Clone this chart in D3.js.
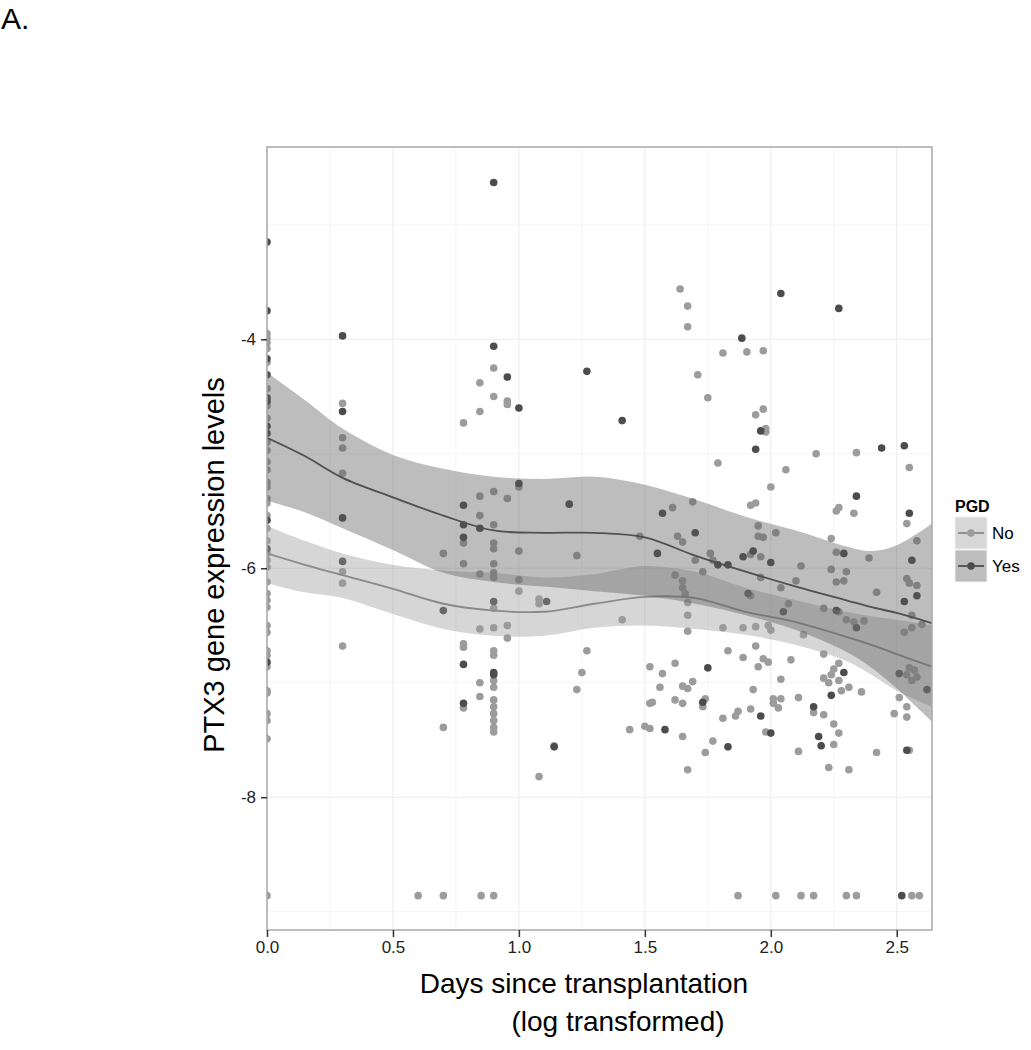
<!DOCTYPE html>
<html>
<head>
<meta charset="utf-8">
<script src="https://cdn.jsdelivr.net/npm/d3@7"></script>
<style>
  body { margin: 0; background: #fff; }
  svg { display: block; }
  text { font-family: "Liberation Sans", Arial, sans-serif; }
</style>
</head>
<body>
<svg id="chart" width="1031" height="1050"></svg>
<script>
// log10(days) columns where several samples share a day : [x, [values...]]
const noColumns = [
  [0, [-3.95,-3.99,-4.03,-4.08,-4.20,-4.43,-4.58,-4.69,-4.90,-4.97,-5.07,-5.14,-5.25,-5.29,-5.39,-5.43,-5.54,-5.65,-5.76,-5.87,-5.93,-5.99,-6.12,-6.22,-6.28,-6.34,-6.50,-6.56,-6.72,-6.76,-6.86,-7.07,-7.09,-7.27,-7.33,-7.49]],
  [0.30, [-4.56,-4.86,-4.95,-5.17,-6.03,-6.13,-6.68]],
  [0.70, [-5.87,-7.39]],
  [0.78, [-4.73,-5.78,-5.96,-6.66,-6.69,-7.22]],
  [0.845, [-4.38,-4.63,-5.37,-5.54,-6.05,-6.53,-7.00,-7.12]],
  [0.90, [-4.25,-4.50,-5.33,-5.62,-5.78,-5.83,-5.96,-6.04,-6.08,-6.35,-6.52,-6.72,-6.76,-6.98,-7.04,-7.15,-7.21,-7.27,-7.33,-7.39,-7.43]],
  [0.954, [-4.54,-4.57,-5.39,-6.50,-6.61]],
  [1.00, [-5.29,-5.85,-6.10,-6.20]],
  [1.08, [-6.27,-6.31,-7.82]],
  [1.14, [-7.55]],
  [1.23, [-5.89,-7.06]],
  [1.25, [-6.91]],
  [1.27, [-6.72]]
];
const yesColumns = [
  [0, [-3.15,-3.75,-4.17,-4.31,-4.51,-4.54,-4.76,-4.82,-5.58,-5.83,-6.82]],
  [0.30, [-3.97,-4.63,-5.56,-5.94]],
  [0.70, [-6.37]],
  [0.78, [-5.45,-5.62,-5.73,-6.84,-7.18]],
  [0.845, [-5.65]],
  [0.90, [-2.63,-4.06,-6.29,-6.91,-6.93]],
  [0.954, [-4.33]],
  [1.00, [-4.60,-5.26]],
  [1.11, [-6.29]],
  [1.14, [-7.56]]
];

// later time points [x, value]
const noScatter = [
  [1.41,-6.45],[1.48,-5.72],[1.52,-6.86],[1.52,-7.18],[1.44,-7.41],[1.50,-7.38],[1.52,-7.40],[1.53,-7.17],
  [1.56,-7.04],[1.57,-6.92],[1.61,-5.47],[1.62,-6.83],[1.62,-7.15],[1.62,-6.06],[1.63,-5.72],[1.64,-3.56],
  [1.65,-6.11],[1.65,-7.18],[1.65,-7.47],[1.65,-6.17],[1.65,-7.03],[1.65,-5.77],[1.66,-6.22],[1.67,-3.71],
  [1.67,-3.89],[1.67,-6.30],[1.67,-6.41],[1.67,-6.55],[1.67,-7.05],[1.67,-7.76],[1.69,-5.42],[1.69,-6.99],
  [1.70,-5.93],[1.71,-4.31],[1.73,-6.03],[1.74,-7.14],[1.73,-7.21],[1.74,-7.61],[1.75,-4.51],[1.76,-5.87],
  [1.77,-7.51],[1.77,-5.93],[1.79,-5.08],[1.81,-4.12],[1.81,-6.52],[1.81,-7.31],[1.83,-6.72],[1.86,-7.29],
  [1.87,-7.25],[1.89,-6.52],[1.89,-6.78],[1.905,-4.11],[1.92,-5.45],[1.92,-5.88],[1.92,-6.24],[1.92,-7.23],
  [1.93,-7.06],[1.94,-4.66],[1.94,-5.43],[1.94,-6.51],[1.94,-6.68],[1.95,-5.63],[1.95,-6.86],[1.95,-5.72],
  [1.96,-5.90],[1.96,-6.08],[1.97,-4.10],[1.97,-4.61],[1.97,-5.73],[1.97,-6.79],[1.98,-4.81],[1.98,-7.43],
  [1.98,-4.78],[1.99,-6.50],[1.99,-6.82],[2.00,-5.29],[2.00,-6.54],[2.01,-7.18],[2.01,-7.14],[2.02,-5.69],
  [2.03,-7.22],[2.04,-6.17],[2.04,-6.97],[2.04,-7.14],[2.06,-5.14],[2.07,-6.31],[2.08,-6.80],[2.10,-6.11],
  [2.11,-7.60],[2.11,-7.13],[2.12,-5.98],[2.13,-6.58],[2.17,-7.26],[2.18,-5.00],[2.21,-6.35],[2.21,-6.75],
  [2.21,-6.96],[2.21,-7.28],[2.23,-7.00],[2.23,-7.74],[2.24,-6.01],[2.24,-5.74],[2.24,-6.93],[2.25,-6.88],
  [2.25,-7.36],[2.25,-7.54],[2.26,-5.86],[2.26,-6.12],[2.26,-5.50],[2.27,-5.47],[2.27,-6.98],[2.27,-6.38],
  [2.27,-6.83],[2.27,-7.44],[2.28,-7.07],[2.29,-6.11],[2.30,-6.03],[2.30,-6.45],[2.31,-7.04],[2.31,-7.76],
  [2.33,-6.47],[2.33,-5.52],[2.34,-4.99],[2.36,-7.08],[2.37,-6.46],[2.39,-5.91],[2.42,-7.61],[2.42,-6.21],
  [2.49,-7.27],[2.51,-7.13],[2.53,-6.56],[2.54,-7.21],[2.54,-5.61],[2.54,-6.09],[2.54,-6.93],[2.54,-7.30],
  [2.55,-6.87],[2.55,-5.12],[2.55,-6.13],[2.55,-7.59],[2.56,-6.52],[2.56,-6.98],[2.56,-6.41],[2.57,-6.89],
  [2.58,-5.76],[2.58,-6.15],[2.58,-6.95],[2.60,-6.49]
];
const yesScatter = [
  [1.20,-5.44],[1.27,-4.28],[1.41,-4.71],[1.55,-5.87],[1.57,-5.52],[1.70,-5.69],[1.79,-5.97],[1.83,-5.97],
  [1.885,-3.99],[1.89,-5.90],[1.91,-6.22],[1.93,-5.85],[1.94,-4.96],[1.96,-4.80],[1.96,-7.29],[2.00,-5.95],
  [2.00,-7.44],[2.04,-3.60],[2.05,-6.38],[2.17,-7.21],[2.19,-7.47],[2.20,-7.55],[2.24,-7.11],[2.26,-6.37],
  [2.27,-3.73],[2.29,-5.87],[2.29,-6.91],[2.34,-5.37],[2.34,-6.52],[2.44,-4.95],[2.51,-6.92],[2.53,-6.29],
  [2.53,-4.93],[2.54,-7.59],[2.55,-5.52],[2.56,-5.93],[2.58,-6.24],[2.62,-7.06],[1.58,-7.41],[1.73,-7.17],
  [1.75,-6.87],[1.83,-7.56]
];

// samples at the detection floor
const floorValue = -8.86;
const noFloorX = [0, 0.60, 0.70, 0.85, 0.90, 1.87, 2.02, 2.12, 2.17, 2.30, 2.34, 2.56, 2.59];
const yesFloorX = [2.52];

// loess fits with confidence band
const smoothX   = [0, 0.15, 0.3, 0.5, 0.7, 0.9, 1.1, 1.3, 1.5, 1.7, 1.9, 2.1, 2.3, 2.4, 2.5, 2.64];
const yesFit    = [-4.86,-5.02,-5.21,-5.38,-5.54,-5.67,-5.69,-5.69,-5.73,-5.89,-6.03,-6.16,-6.28,-6.34,-6.39,-6.48];
const yesUpper  = [-4.29,-4.53,-4.78,-5.01,-5.13,-5.20,-5.22,-5.20,-5.27,-5.40,-5.55,-5.67,-5.81,-5.85,-5.80,-5.61];
const yesLower  = [-5.41,-5.51,-5.65,-5.84,-6.04,-6.12,-6.16,-6.20,-6.24,-6.31,-6.41,-6.54,-6.73,-6.87,-7.05,-7.34];
const noFit     = [-5.87,-5.97,-6.06,-6.18,-6.31,-6.37,-6.38,-6.31,-6.25,-6.26,-6.38,-6.47,-6.60,-6.67,-6.75,-6.86];
const noUpper   = [-5.63,-5.76,-5.87,-5.97,-6.02,-6.04,-6.08,-6.05,-5.98,-6.03,-6.17,-6.28,-6.38,-6.42,-6.45,-6.50];
const noLower   = [-6.13,-6.21,-6.26,-6.40,-6.53,-6.59,-6.59,-6.52,-6.50,-6.53,-6.58,-6.67,-6.81,-6.93,-7.07,-7.21];

const xTicks = [0, 0.5, 1.0, 1.5, 2.0, 2.5];
const xMinor = [0.25, 0.75, 1.25, 1.75, 2.25];
const yTicks = [-8, -6, -4];
const yMinor = [-9, -7, -5, -3];
const groups = ["No", "Yes"];

const colors = {
  No:  { point: "#9c9c9c", band: "#989898", line: "#8a8a8a", key: "#d7d7d7" },
  Yes: { point: "#4c4c4c", band: "#5a5a5a", line: "#4f4f4f", key: "#bdbdbd" }
};

const svg = d3.select("#chart");
const panel = { left: 267, right: 932, top: 147, bottom: 930 };

const x = d3.scaleLinear().domain([0, 2.64]).range([panel.left, panel.right]);
const y = d3.scaleLinear().domain([-9.16, -2.32]).range([panel.bottom, panel.top]);

svg.append("text")
  .attr("x", 1).attr("y", 29)
  .style("font-size", "30px")
  .text("A.");

svg.append("defs").append("clipPath").attr("id", "panelClip")
  .append("rect")
  .attr("x", panel.left).attr("y", panel.top)
  .attr("width", panel.right - panel.left).attr("height", panel.bottom - panel.top);

// grid
const grid = svg.append("g");
grid.selectAll(".vminor").data(xMinor).join("line")
  .attr("x1", d => x(d)).attr("x2", d => x(d))
  .attr("y1", panel.top).attr("y2", panel.bottom)
  .attr("stroke", "#f5f5f5").attr("stroke-width", 1);
grid.selectAll(".hminor").data(yMinor).join("line")
  .attr("y1", d => y(d)).attr("y2", d => y(d))
  .attr("x1", panel.left).attr("x2", panel.right)
  .attr("stroke", "#f5f5f5").attr("stroke-width", 1);
grid.selectAll(".vmajor").data(xTicks).join("line")
  .attr("x1", d => x(d)).attr("x2", d => x(d))
  .attr("y1", panel.top).attr("y2", panel.bottom)
  .attr("stroke", "#ececec").attr("stroke-width", 1);
grid.selectAll(".hmajor").data(yTicks).join("line")
  .attr("y1", d => y(d)).attr("y2", d => y(d))
  .attr("x1", panel.left).attr("x2", panel.right)
  .attr("stroke", "#ececec").attr("stroke-width", 1);

// points
const expand = cols => cols.flatMap(([cx, vals]) => vals.map(v => [cx, v]));
const pointSets = {
  No:  expand(noColumns).concat(noScatter, noFloorX.map(v => [v, floorValue])),
  Yes: expand(yesColumns).concat(yesScatter, yesFloorX.map(v => [v, floorValue]))
};

const plot = svg.append("g").attr("clip-path", "url(#panelClip)");
groups.forEach(g => {
  plot.append("g").selectAll("circle")
    .data(pointSets[g])
    .join("circle")
    .attr("cx", d => x(d[0]))
    .attr("cy", d => y(d[1]))
    .attr("r", 3.8)
    .attr("fill", colors[g].point);
});

// smooth bands + lines
const bands = {
  No:  { fit: noFit, upper: noUpper, lower: noLower },
  Yes: { fit: yesFit, upper: yesUpper, lower: yesLower }
};
groups.forEach(g => {
  const b = bands[g];
  const rows = smoothX.map((sx, i) => ({ x: sx, fit: b.fit[i], lo: b.lower[i], hi: b.upper[i] }));
  plot.append("path")
    .datum(rows)
    .attr("d", d3.area().curve(d3.curveCatmullRom)
      .x(d => x(d.x)).y0(d => y(d.lo)).y1(d => y(d.hi)))
    .attr("fill", colors[g].band)
    .attr("fill-opacity", 0.4);
  plot.append("path")
    .datum(rows)
    .attr("d", d3.line().curve(d3.curveCatmullRom).x(d => x(d.x)).y(d => y(d.fit)))
    .attr("fill", "none")
    .attr("stroke", colors[g].line)
    .attr("stroke-width", 1.8);
});

// panel border
svg.append("rect")
  .attr("x", panel.left).attr("y", panel.top)
  .attr("width", panel.right - panel.left).attr("height", panel.bottom - panel.top)
  .attr("fill", "none").attr("stroke", "#a8a8a8").attr("stroke-width", 1.5);

// axes
const xAxis = svg.append("g")
  .attr("transform", `translate(0,${panel.bottom})`)
  .call(d3.axisBottom(x).tickValues(xTicks).tickFormat(d3.format(".1f")).tickSize(7).tickPadding(4));
const yAxis = svg.append("g")
  .attr("transform", `translate(${panel.left},0)`)
  .call(d3.axisLeft(y).tickValues(yTicks).tickFormat(d => String(d)).tickSize(6).tickPadding(5));
[xAxis, yAxis].forEach(a => {
  a.select(".domain").remove();
  a.selectAll(".tick line").attr("stroke", "#333").attr("stroke-width", 1.5);
  a.selectAll(".tick text")
    .attr("fill", "#222")
    .style("font-size", "17px")
    .style("font-family", '"Liberation Sans", Arial, sans-serif');
});

// axis titles
svg.append("text")
  .attr("x", 584).attr("y", 993)
  .attr("text-anchor", "middle")
  .style("font-size", "28px")
  .text("Days since transplantation");
svg.append("text")
  .attr("x", 618).attr("y", 1031)
  .attr("text-anchor", "middle")
  .style("font-size", "28px")
  .text("(log transformed)");
svg.append("text")
  .attr("transform", "translate(224,565) rotate(-90)")
  .attr("text-anchor", "middle")
  .style("font-size", "29px")
  .text("PTX3 gene expression levels");

// legend
const legend = svg.append("g").attr("transform", "translate(955,0)");
legend.append("text")
  .attr("x", 0).attr("y", 512)
  .style("font-size", "16px").style("font-weight", "bold")
  .text("PGD");
const keys = legend.selectAll(".key").data(groups).join("g")
  .attr("transform", (d, i) => `translate(0,${517 + i * 33})`);
keys.append("rect")
  .attr("width", 32).attr("height", 32)
  .attr("fill", d => colors[d].key)
  .attr("stroke", "#f2f2f2").attr("stroke-width", 1);
keys.append("line")
  .attr("x1", 3).attr("x2", 29).attr("y1", 16).attr("y2", 16)
  .attr("stroke", d => colors[d].line).attr("stroke-width", 1.8);
keys.append("circle")
  .attr("cx", 16).attr("cy", 16).attr("r", 3.8)
  .attr("fill", d => colors[d].point);
keys.append("text")
  .attr("x", 37).attr("y", 16).attr("dy", "0.36em")
  .style("font-size", "17px")
  .text(d => d);
</script>
</body>
</html>
